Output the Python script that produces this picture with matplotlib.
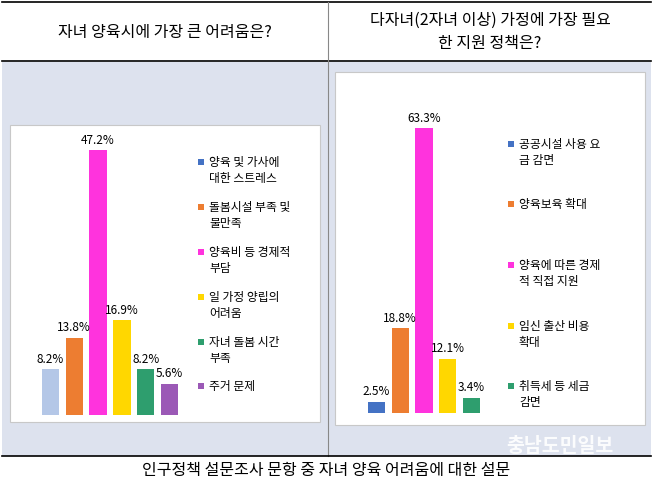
import matplotlib
matplotlib.use("Agg")
import matplotlib.pyplot as plt
from matplotlib.patches import Rectangle

plt.rcParams["font.family"] = "Noto Sans CJK KR"

left_title = "자녀 양육시에 가장 큰 어려움은?"
right_title = "다자녀(2자녀 이상) 가정에 가장 필요\n한 지원 정책은?"
caption = "인구정책 설문조사 문항 중 자녀 양육 어려움에 대한 설문"

left_cats = ["양육 및 가사에\n대한 스트레스", "돌봄시설 부족 및\n불만족", "양육비 등 경제적\n부담",
             "일 가정 양립의\n어려움", "자녀 돌봄 시간\n부족", "주거 문제"]
left_vals = [8.2, 13.8, 47.2, 16.9, 8.2, 5.6]
left_bar_colors = ["#b4c7e7", "#ed7d31", "#ff33dd", "#ffd700", "#2e9e6e", "#9b59b6"]
left_leg_colors = ["#4472c4", "#ed7d31", "#ff33dd", "#ffd700", "#2e9e6e", "#9b59b6"]

right_cats = ["공공시설 사용 요\n금 감면", "양육보육 확대", "양육에 따른 경제\n적 직접 지원",
              "임신 출산 비용\n확대", "취득세 등 세금\n감면"]
right_vals = [2.5, 18.8, 63.3, 12.1, 3.4]
right_colors = ["#4472c4", "#ed7d31", "#ff33dd", "#ffd700", "#2e9e6e"]

W, H = 653, 487
fig = plt.figure(figsize=(W/100, H/100), dpi=100)
fig.patch.set_facecolor("white")

def rect(x, y, w, h, **kw):
    fig.patches.append(Rectangle((x/W, 1-(y+h)/H), w/W, h/H, transform=fig.transFigure, **kw))

rect(2, 62, 649, 394, facecolor="#dde2ee", edgecolor="none")
fig.add_artist(plt.Line2D([2/W, 651/W], [1-2/H, 1-2/H], color="black", lw=1.2))
fig.add_artist(plt.Line2D([2/W, 651/W], [1-61/H, 1-61/H], color="black", lw=1.2))
fig.add_artist(plt.Line2D([328/W, 328/W], [1-2/H, 1-456/H], color="#888888", lw=0.8))
fig.add_artist(plt.Line2D([2/W, 651/W], [1-456/H, 1-456/H], color="black", lw=1.2))

fig.text(165/W, 1-32/H, left_title, ha="center", va="center", fontsize=11.5, fontweight="medium")
fig.text(490/W, 1-32/H, right_title, ha="center", va="center", fontsize=11.5, linespacing=1.5, fontweight="medium")
fig.text(326/W, 1-471/H, caption, ha="center", va="center", fontsize=11.5)
fig.text(560/W, 1-447/H, "충남도민일보", ha="center", va="center", fontsize=14,
         color="white", fontweight="bold", alpha=0.9)

rect(10, 125, 310, 297, facecolor="white", edgecolor="#c8c8c8", lw=0.8)
rect(335, 72, 310, 353, facecolor="white", edgecolor="#c8c8c8", lw=0.8)

def panel(x0, y0, w, h, vals, colors):
    ax = fig.add_axes([x0/W, 1-(y0+h)/H, w/W, h/H])
    ax.set_zorder(5)
    ax.patch.set_alpha(0)
    xs = range(len(vals))
    ymax = max(vals)
    ax.bar(xs, vals, color=colors, width=0.72)
    for x, v in zip(xs, vals):
        ax.text(x, v + ymax*0.012, f"{v}%", ha="center", va="bottom", fontsize=8.5)
    ax.set_ylim(0, ymax)
    ax.set_xlim(-0.6, len(vals)-0.4)
    ax.axis("off")
    return ax

panel(36, 150, 148, 265, left_vals, left_bar_colors)
panel(362, 128, 124, 285, right_vals, right_colors)

def legend(x, ys, cats, colors):
    for y, c, col in zip(ys, cats, colors):
        rect(x, y-4, 6, 6, facecolor=col, edgecolor="none")
        fig.text((x+11)/W, 1-(y-7)/H, c, ha="left", va="top", fontsize=8.5, linespacing=1.3)

legend(198, [163, 208, 253, 298, 343, 387], left_cats, left_leg_colors)
legend(508, [145, 205, 266, 327, 387], right_cats, right_colors)

fig.savefig("out.png", dpi=100)
